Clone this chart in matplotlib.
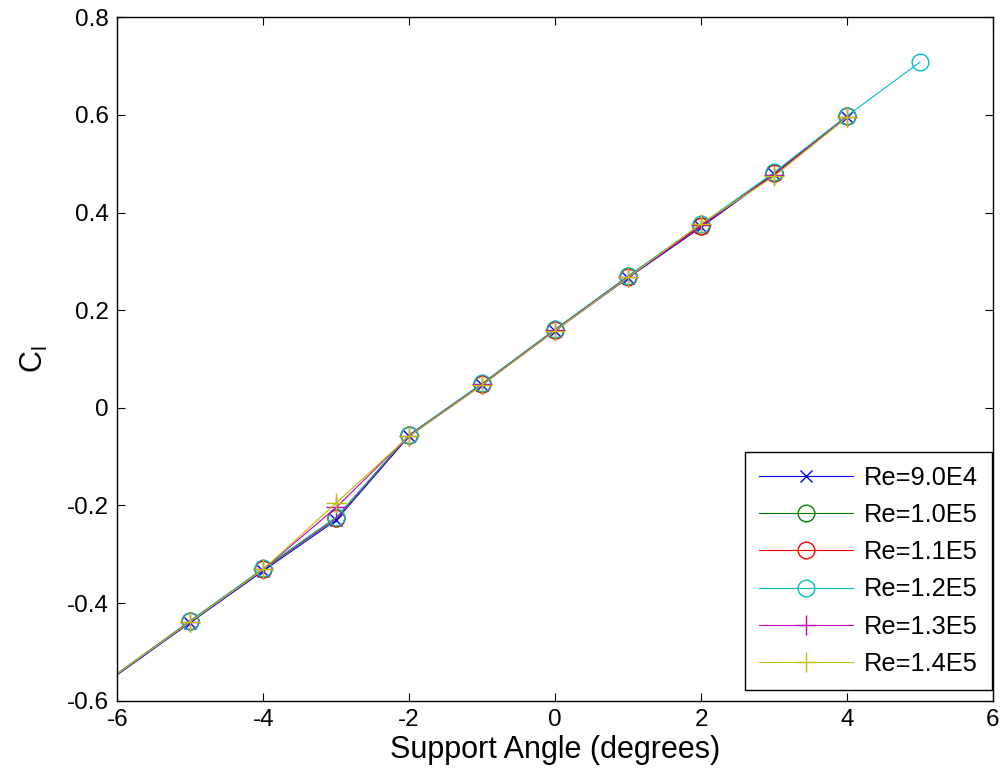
import matplotlib.pyplot as plt
import numpy as np

plt.rcParams['font.family'] = ['Liberation Sans', 'DejaVu Sans']

# support angle (deg); -6 entry only carries the line to the axis edge
angles = [-6, -5, -4, -3, -2, -1, 0, 1, 2, 3, 4]
angles_12 = [-6, -5, -4, -3, -2, -1, 0, 1, 2, 3, 4, 5]

cl_90k = [-0.547, -0.440, -0.334, -0.230, -0.058, 0.047, 0.158, 0.266, 0.370, 0.478, 0.595]
cl_100k = [-0.545, -0.437, -0.331, -0.226, -0.056, 0.049, 0.160, 0.269, 0.373, 0.480, 0.597]
cl_110k = [-0.545, -0.437, -0.330, -0.226, -0.056, 0.049, 0.160, 0.268, 0.372, 0.481, 0.597]
cl_120k = [-0.544, -0.436, -0.329, -0.224, -0.055, 0.050, 0.161, 0.270, 0.376, 0.482, 0.598, 0.708]
cl_130k = [-0.545, -0.438, -0.331, -0.204, -0.057, 0.048, 0.159, 0.268, 0.374, 0.477, 0.596]
cl_140k = [-0.545, -0.438, -0.331, -0.195, -0.058, 0.047, 0.158, 0.267, 0.377, 0.474, 0.595]

labels = ['Re=9.0E4', 'Re=1.0E5', 'Re=1.1E5', 'Re=1.2E5', 'Re=1.3E5', 'Re=1.4E5']

fig = plt.figure(figsize=(10.02, 7.83), dpi=100)
ax = fig.add_axes([0.117, 0.105, 0.874, 0.873])

skip = slice(1, None)
ax.plot(angles, cl_90k, color=(0, 0, 1), marker='x', ms=8, mew=1.0, lw=0.8, markevery=skip, label=labels[0])
ax.plot(angles, cl_100k, color=(0, 0.5, 0), marker='o', ms=12, mfc='none', mew=1.0, lw=0.8, markevery=skip, label=labels[1])
ax.plot(angles, cl_110k, color=(1, 0, 0), marker='o', ms=12, mfc='none', mew=1.0, lw=0.8, markevery=skip, label=labels[2])
ax.plot(angles_12, cl_120k, color=(0, 0.75, 0.75), marker='o', ms=12, mfc='none', mew=1.0, lw=0.8, markevery=skip, label=labels[3])
ax.plot(angles, cl_130k, color=(0.75, 0, 0.75), marker='+', ms=14, mew=1.0, lw=0.8, markevery=skip, label=labels[4])
ax.plot(angles, cl_140k, color=(0.75, 0.75, 0), marker='+', ms=14, mew=1.0, lw=0.8, markevery=skip, label=labels[5])

ax.set_xlim(-6, 6)
ax.set_ylim(-0.6, 0.8)
ax.set_xticks(np.arange(-6, 7, 2))
ax.set_yticks(np.arange(-0.6, 0.81, 0.2))
ax.set_yticklabels(['-0.6', '-0.4', '-0.2', '0', '0.2', '0.4', '0.6', '0.8'])
ax.set_xticklabels(['-6', '-4', '-2', '0', '2', '4', '6'])
ax.tick_params(direction='in', length=6, labelsize=17.5, top=True, right=True, pad=6)
for s in ax.spines.values():
    s.set_linewidth(1.0)

ax.set_xlabel('Support Angle (degrees)', fontsize=22, labelpad=3)
ax.set_ylabel('C$_\\mathregular{l}$', fontsize=22, labelpad=12)

leg = ax.legend(loc='lower right', bbox_to_anchor=(0.999, 0.016), fontsize=18.3,
                handlelength=3.7, labelspacing=0.52, borderpad=0.55, handletextpad=0.45,
                fancybox=False, framealpha=1, edgecolor='black', borderaxespad=0)
leg.get_frame().set_linewidth(1.0)

fig.savefig('out.png', dpi=100)
